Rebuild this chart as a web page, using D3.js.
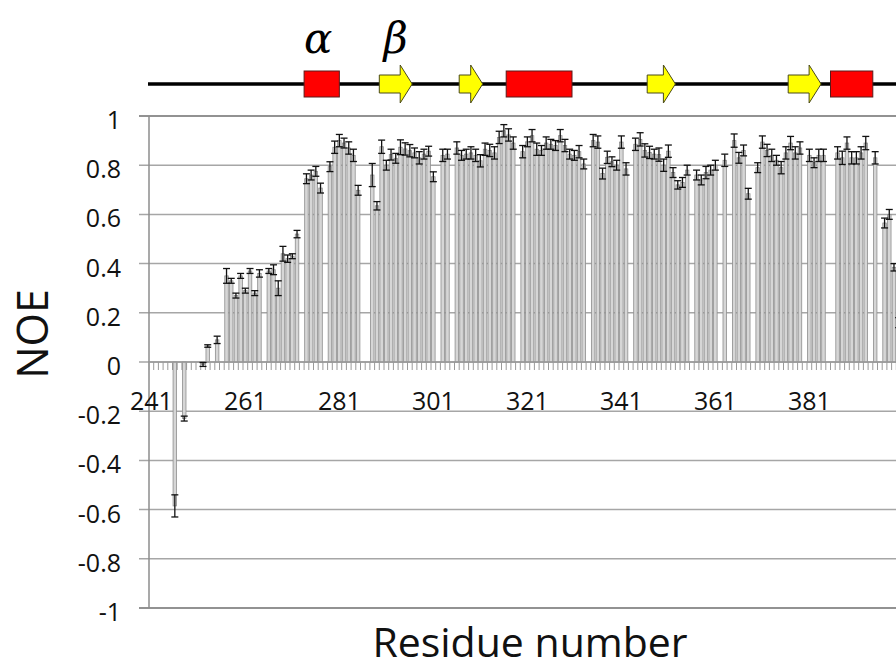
<!DOCTYPE html>
<html>
<head>
<meta charset="utf-8">
<script src="https://cdn.jsdelivr.net/npm/d3@7"></script>
<style>
    body { margin: 0; background: #fff; }
    #chart { width: 896px; height: 671px; overflow: hidden; }
    text { font-family: "Open Sans", "Liberation Sans", sans-serif; }
</style>
</head>
<body>
<div id="chart"></div>
<script>
    // residues 241..400, null = no data
    const firstResidue = 241;
    const noe = [
        null, null, null, null, null, -0.585, null, -0.23, null, null,
        null, -0.01, 0.065, null, 0.09, null, 0.35, 0.33, 0.27, 0.35,
        0.29, 0.37, 0.28, 0.36, null, 0.37, 0.375, 0.30, 0.44, 0.42,
        0.43, 0.52, null, 0.745, 0.76, 0.775, 0.707, null, 0.794, 0.873,
        0.90, 0.89, 0.87, 0.84, 0.698, null, null, 0.76, 0.635, 0.875,
        0.80, 0.843, 0.828, 0.873, 0.866, 0.859, 0.85, 0.83, 0.845, 0.857,
        0.753, null, 0.84, 0.845, null, 0.87, 0.84, 0.845, 0.85, 0.84,
        0.818, 0.865, 0.86, 0.85, 0.913, 0.94, 0.923, 0.89, null, 0.855,
        0.895, 0.92, 0.865, 0.86, 0.89, 0.885, 0.88, 0.92, 0.88, 0.845,
        0.84, 0.855, 0.805, null, 0.90, 0.894, 0.766, 0.832, 0.814, 0.80,
        0.894, 0.785, null, 0.885, 0.905, 0.86, 0.852, 0.845, 0.843, 0.80,
        0.857, 0.77, 0.72, 0.73, 0.78, null, 0.76, 0.74, 0.77, 0.78,
        0.80, null, 0.82, null, 0.90, 0.83, 0.86, 0.684, null, 0.79,
        0.894, 0.86, 0.84, 0.82, 0.79, 0.85, 0.89, 0.85, 0.87, null,
        0.84, 0.81, 0.84, 0.84, null, null, 0.85, 0.83, 0.89, 0.83,
        0.83, 0.85, 0.89, null, 0.83, null, 0.565, 0.60, 0.385, 0.16
    ];
    const noeErr = [
        0, 0, 0, 0, 0, 0.045, 0, 0.01, 0, 0,
        0, 0.008, 0.005, 0, 0.015, 0, 0.03, 0.01, 0.01, 0.01,
        0.01, 0.01, 0.01, 0.015, 0, 0.01, 0.02, 0.03, 0.03, 0.015,
        0.01, 0.015, 0, 0.02, 0.02, 0.02, 0.02, 0, 0.02, 0.025,
        0.025, 0.02, 0.025, 0.025, 0.02, 0, 0, 0.047, 0.017, 0.027,
        0.02, 0.022, 0.02, 0.03, 0.025, 0.025, 0.02, 0.025, 0.02, 0.02,
        0.02, 0, 0.025, 0.02, 0, 0.025, 0.02, 0.02, 0.025, 0.025,
        0.025, 0.025, 0.025, 0.025, 0.025, 0.025, 0.025, 0.025, 0, 0.025,
        0.02, 0.025, 0.025, 0.02, 0.025, 0.02, 0.02, 0.025, 0.025, 0.02,
        0.02, 0.025, 0.02, 0, 0.025, 0.025, 0.022, 0.025, 0.02, 0.02,
        0.025, 0.025, 0, 0.025, 0.027, 0.027, 0.025, 0.02, 0.027, 0.025,
        0.025, 0.02, 0.017, 0.02, 0.02, 0, 0.02, 0.02, 0.025, 0.02,
        0.02, 0, 0.025, 0, 0.027, 0.022, 0.022, 0.022, 0, 0.02,
        0.025, 0.025, 0.025, 0.02, 0.025, 0.025, 0.027, 0.025, 0.025, 0,
        0.025, 0.02, 0.025, 0.025, 0, 0, 0.025, 0.027, 0.025, 0.025,
        0.025, 0.025, 0.027, 0, 0.025, 0, 0.02, 0.02, 0.015, 0.02
    ];

    const yTicks = [-1, -0.8, -0.6, -0.4, -0.2, 0, 0.2, 0.4, 0.6, 0.8, 1];
    const xTickLabels = [241, 261, 281, 301, 321, 341, 361, 381];

    // secondary structure, [start, end] residue
    const helices = [[274, 280.5], [317, 330], [386, 394]];
    const strands = [[290, 296], [307, 311], [347, 352], [377, 383]];
    const ssLabels = [{ text: "α", at: 276.5 }, { text: "β", at: 293 }];

    const width = 896;
    const height = 671;
    const margin = { left: 149, top: 116 };
    const plotW = 752;
    const plotH = 492;

    const residues = noe.map((d, i) => firstResidue + i);
    const data = residues.map((r, i) => ({ res: r, v: noe[i], e: noeErr[i] }))
        .filter(d => d.v !== null);

    const x = d3.scaleBand()
        .domain(residues)
        .range([margin.left, margin.left + plotW])
        .paddingInner(0.25)
        .paddingOuter(0.12);

    // continuous residue -> x, for the structure cartoon
    const step = plotW / residues.length;
    const xr = d3.scaleLinear()
        .domain([firstResidue - 0.5, firstResidue + residues.length - 0.5])
        .range([margin.left, margin.left + plotW]);

    const y = d3.scaleLinear()
        .domain([-1, 1])
        .range([margin.top + plotH, margin.top]);

    const svg = d3.select("#chart").append("svg")
        .attr("width", width)
        .attr("height", height);

    // grid
    svg.append("g")
        .selectAll("line")
        .data(yTicks)
        .join("line")
        .attr("x1", margin.left - 10)
        .attr("x2", margin.left + plotW)
        .attr("y1", d => y(d))
        .attr("y2", d => y(d))
        .attr("stroke", d => Math.abs(d) === 1 ? "#6e6e6e" : "#a6a6a6")
        .attr("stroke-width", 1.5);

    // y axis line
    svg.append("line")
        .attr("x1", margin.left).attr("x2", margin.left)
        .attr("y1", y(1)).attr("y2", y(-1))
        .attr("stroke", "#8c8c8c")
        .attr("stroke-width", 1.5);

    svg.append("g")
        .selectAll("text")
        .data(yTicks)
        .join("text")
        .attr("x", margin.left - 28)
        .attr("y", d => y(d) + 13)
        .attr("text-anchor", "end")
        .attr("font-size", 25)
        .attr("fill", "#111")
        .text(d => String(d));

    // x axis ticks at zero
    const tickG = svg.append("g");
    tickG.selectAll("line")
        .data(d3.range(residues.length + 1))
        .join("line")
        .attr("x1", d => margin.left + d * step)
        .attr("x2", d => margin.left + d * step)
        .attr("y1", y(0))
        .attr("y2", y(0) + 8)
        .attr("stroke", "#9a9a9a")
        .attr("stroke-width", 1);

    tickG.selectAll("text")
        .data(xTickLabels)
        .join("text")
        .attr("x", d => x(d) + x.bandwidth() / 2)
        .attr("y", y(0) + 48)
        .attr("text-anchor", "middle")
        .attr("font-size", 25)
        .attr("fill", "#111")
        .text(d => d);

    // bars
    svg.append("g")
        .selectAll("rect")
        .data(data)
        .join("rect")
        .attr("x", d => x(d.res))
        .attr("width", x.bandwidth())
        .attr("y", d => Math.min(y(d.v), y(0)))
        .attr("height", d => Math.abs(y(d.v) - y(0)))
        .attr("fill", "#d6d6d6")
        .attr("stroke", "#8e8e8e")
        .attr("stroke-width", 0.8);

    svg.append("line")
        .attr("x1", margin.left).attr("x2", margin.left + plotW)
        .attr("y1", y(0)).attr("y2", y(0))
        .attr("stroke", "#9a9a9a")
        .attr("stroke-width", 1.5);

    // error bars
    const err = svg.append("g")
        .attr("stroke", "#111")
        .attr("stroke-width", 1.3)
        .selectAll("g")
        .data(data)
        .join("g")
        .attr("transform", d => `translate(${x(d.res) + x.bandwidth() / 2},0)`);

    err.append("line")
        .attr("y1", d => y(d.v + d.e))
        .attr("y2", d => y(d.v - d.e));
    err.append("line")
        .attr("x1", -3.5).attr("x2", 3.5)
        .attr("y1", d => y(d.v + d.e))
        .attr("y2", d => y(d.v + d.e));
    err.append("line")
        .attr("x1", -3.5).attr("x2", 3.5)
        .attr("y1", d => y(d.v - d.e))
        .attr("y2", d => y(d.v - d.e));

    // secondary structure cartoon
    const ssY = 84;
    const ss = svg.append("g");
    ss.append("line")
        .attr("x1", margin.left - 1).attr("x2", width)
        .attr("y1", ssY).attr("y2", ssY)
        .attr("stroke", "#000")
        .attr("stroke-width", 3.5);

    ss.selectAll("rect")
        .data(helices)
        .join("rect")
        .attr("x", d => xr(d[0] - 0.5))
        .attr("width", d => xr(d[1] + 0.5) - xr(d[0] - 0.5))
        .attr("y", ssY - 13)
        .attr("height", 26)
        .attr("fill", "#ff0000")
        .attr("stroke", "#5a1a1a")
        .attr("stroke-width", 1);

    ss.selectAll("path")
        .data(strands)
        .join("path")
        .attr("d", d => {
            const x0 = xr(d[0] - 0.5), x1 = xr(d[1] + 0.5), hx = x1 - 12;
            return `M${x0},${ssY - 9}H${hx}V${ssY - 19}L${x1},${ssY}L${hx},${ssY + 19}V${ssY + 9}H${x0}Z`;
        })
        .attr("fill", "#ffff00")
        .attr("stroke", "#4a4a1a")
        .attr("stroke-width", 1);

    ss.selectAll("text")
        .data(ssLabels)
        .join("text")
        .attr("x", d => xr(d.at))
        .attr("y", 53)
        .attr("text-anchor", "middle")
        .attr("font-size", 42)
        .attr("font-style", "italic")
        .style("font-family", "'DejaVu Serif', serif")
        .text(d => d.text);

    // axis titles
    svg.append("text")
        .attr("transform", `translate(48,${y(0) - 28}) rotate(-90)`)
        .attr("text-anchor", "middle")
        .attr("font-size", 43)
        .attr("fill", "#111")
        .text("NOE");

    svg.append("text")
        .attr("x", 530)
        .attr("y", 657)
        .attr("text-anchor", "middle")
        .attr("font-size", 41)
        .attr("fill", "#111")
        .text("Residue number");
</script>
</body>
</html>
